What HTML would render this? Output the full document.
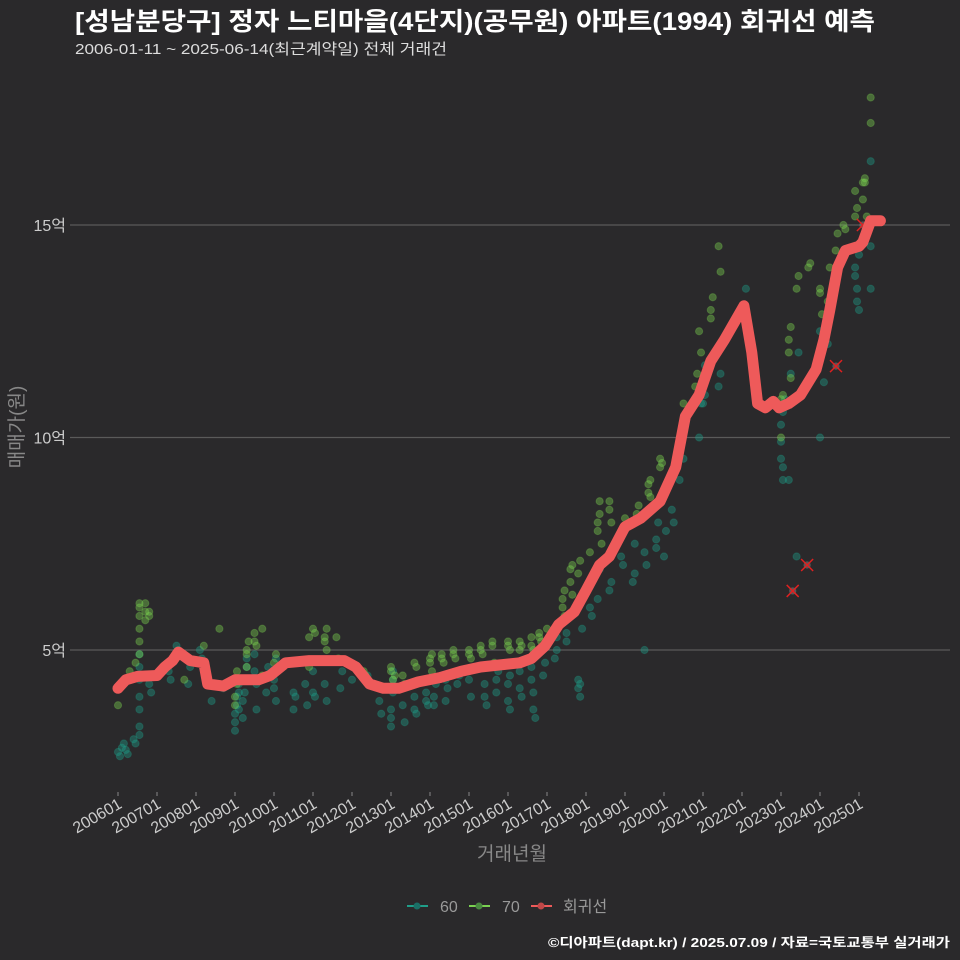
<!DOCTYPE html>
<html><head><meta charset="utf-8"><style>
html,body{margin:0;padding:0;background:#2a292b;}
svg{display:block;font-family:"Liberation Sans","Noto Sans CJK KR",sans-serif;}
</style></head><body>
<svg id="chart" width="960" height="960" viewBox="0 0 960 960">
<rect width="960" height="960" fill="#2a292b"/>
<text x="75" y="30" fill="#fff" font-size="25" font-weight="bold" textLength="800" lengthAdjust="spacingAndGlyphs">[성남분당구] 정자 느티마을(4단지)(공무원) 아파트(1994) 회귀선 예측</text>
<text x="75" y="54" fill="#ddd" font-size="15" textLength="372" lengthAdjust="spacingAndGlyphs">2006-01-11 ~ 2025-06-14(최근계약일) 전체 거래건</text>
<g id="grid"></g><g id="yticks"></g><g id="xticks"></g>
<g id="s60"></g><g id="s70"></g><g id="outliers"></g><g id="reg"></g>
<text transform="translate(23,427) rotate(-90)" text-anchor="middle" fill="#888" font-size="19">매매가(원)</text>
<text x="512" y="860" text-anchor="middle" fill="#888" font-size="19">거래년월</text>
<g>
<g><line x1="407" y1="906" x2="428" y2="906" stroke="#1f9e89" stroke-width="2"/><circle cx="417" cy="906" r="3.5" fill="#1a6f66"/><text x="440" y="912" fill="#999" font-size="16">60</text></g>
<g><line x1="469" y1="906" x2="490" y2="906" stroke="#7ad151" stroke-width="2"/><circle cx="479" cy="906" r="3.5" fill="#4a8a40"/><text x="502" y="912" fill="#999" font-size="16">70</text></g>
<g><line x1="531" y1="906" x2="552" y2="906" stroke="#ee5a5a" stroke-width="2"/><circle cx="541" cy="906" r="3.5" fill="#c04848"/><text x="563" y="912" fill="#999" font-size="16">회귀선</text></g>
</g>
<text x="950" y="947" text-anchor="end" fill="#fff" font-size="13" font-weight="bold" textLength="402" lengthAdjust="spacingAndGlyphs">©디아파트(dapt.kr) / 2025.07.09 / 자료=국토교통부 실거래가</text>
</svg>
<script>
const yTicks=[5,10,15];
const xTickLabels=['200601','200701','200801','200901','201001','201101','201201','201301','201401','201501','201601','201701','201801','201901','202001','202101','202201','202301','202401','202501'];
const regYears=[2006.0,2006.2,2006.5,2007.0,2007.2,2007.4,2007.55,2007.85,2008.2,2008.3,2008.7,2009.0,2009.6,2009.9,2010.3,2010.9,2011.8,2012.1,2012.45,2012.8,2013.2,2013.7,2014.25,2014.8,2015.3,2016.3,2016.6,2016.95,2017.3,2017.7,2018.0,2018.35,2018.6,2019.0,2019.4,2019.9,2020.3,2020.55,2020.9,2021.2,2021.55,2022.05,2022.25,2022.4,2022.6,2022.8,2022.95,2023.2,2023.5,2023.9,2024.1,2024.25,2024.45,2024.65,2025.0,2025.1,2025.3,2025.55];
const regValues=[4.1,4.3,4.38,4.4,4.6,4.75,4.95,4.75,4.7,4.2,4.15,4.3,4.3,4.4,4.7,4.75,4.75,4.6,4.2,4.1,4.1,4.25,4.35,4.5,4.6,4.7,4.8,5.1,5.6,5.9,6.4,7.0,7.2,7.9,8.1,8.5,9.3,10.5,11.0,11.8,12.3,13.1,12.0,10.8,10.7,10.85,10.7,10.8,11.0,11.6,12.3,13.0,14.0,14.4,14.5,14.6,15.1,15.1];
const s60Years=[2006.0,2006.05,2006.1,2006.15,2006.2,2006.25,2006.4,2006.45,2006.55,2006.55,2006.55,2006.55,2006.55,2006.55,2006.55,2006.8,2006.85,2007.3,2007.35,2007.5,2007.55,2007.6,2007.8,2007.85,2008.1,2008.15,2008.4,2008.7,2009.0,2009.0,2009.0,2009.05,2009.05,2009.1,2009.1,2009.1,2009.2,2009.2,2009.25,2009.25,2009.3,2009.3,2009.5,2009.5,2009.55,2009.55,2009.8,2009.85,2010.0,2010.0,2010.05,2010.05,2010.5,2010.5,2010.55,2010.8,2010.85,2011.0,2011.0,2011.05,2011.3,2011.35,2011.7,2011.75,2012.0,2012.4,2012.7,2012.75,2013.0,2013.0,2013.0,2013.05,2013.05,2013.05,2013.3,2013.35,2013.6,2013.6,2013.65,2013.9,2013.95,2013.9,2014.1,2014.1,2014.15,2014.4,2014.45,2014.4,2014.7,2014.75,2015.0,2015.0,2015.05,2015.4,2015.45,2015.4,2015.7,2015.7,2015.75,2016.0,2016.0,2016.05,2016.05,2016.3,2016.35,2016.3,2016.6,2016.6,2016.65,2016.65,2016.7,2016.9,2016.95,2017.2,2017.25,2017.25,2017.5,2017.5,2017.55,2017.8,2017.8,2017.85,2017.85,2017.9,2018.1,2018.1,2018.15,2018.3,2018.35,2018.35,2018.6,2018.65,2018.9,2018.95,2019.2,2019.25,2019.25,2019.5,2019.5,2019.55,2019.8,2019.8,2019.85,2020.0,2020.05,2020.2,2020.25,2020.4,2020.5,2020.55,2020.9,2020.95,2021.0,2021.05,2021.05,2021.4,2021.45,2022.1,2023.0,2023.0,2023.05,2023.05,2023.0,2023.05,2023.1,2023.2,2023.25,2023.4,2023.45,2024.0,2024.0,2024.05,2024.1,2024.2,2024.9,2024.9,2024.95,2024.95,2025.0,2025.0,2025.05,2025.3,2025.3,2025.3];
const s60Values=[2.6,2.5,2.7,2.8,2.65,2.55,2.9,2.8,3.0,3.2,3.6,3.9,4.3,4.6,4.9,4.2,4.0,4.5,4.3,5.1,5.0,4.9,4.2,4.6,5.0,4.8,3.8,4.1,3.5,3.3,3.1,3.7,3.9,4.2,4.0,3.6,3.4,3.8,4.0,4.3,4.6,4.8,4.5,4.9,4.2,3.6,4.0,4.6,4.3,4.1,3.8,4.8,4.0,3.6,3.9,4.2,3.7,4.5,4.0,3.9,4.2,3.8,4.1,4.5,4.3,4.4,3.8,3.5,3.2,3.4,3.6,4.0,4.3,4.5,3.7,3.3,3.6,3.9,3.5,3.8,3.7,4.0,3.7,3.9,4.2,3.8,4.1,4.3,4.2,4.4,4.3,4.5,3.9,3.9,3.7,4.2,4.3,4.0,4.5,4.2,3.8,3.6,4.4,4.1,3.9,4.5,4.6,4.3,4.0,3.6,3.4,4.4,4.7,4.8,5.0,5.3,5.4,5.2,5.8,4.1,4.3,4.2,3.9,5.5,6.5,6.0,5.8,6.2,6.9,7.0,6.4,6.6,7.2,7.0,6.6,6.8,7.5,5.0,7.3,7.0,7.6,7.4,8.0,7.2,7.8,8.3,8.0,9.0,9.5,10.5,10.0,10.8,10.8,11.0,11.7,11.2,11.5,13.5,9.9,9.5,9.3,9.0,10.3,10.6,10.9,9.0,11.5,7.2,12.0,10.0,12.5,12.0,11.3,12.2,14.0,13.8,13.5,13.2,13.0,14.3,14.5,16.5,14.5,13.5];
const s70Years=[2006.0,2006.3,2006.45,2006.45,2006.55,2006.55,2006.55,2006.55,2006.55,2006.55,2006.7,2006.7,2006.7,2006.8,2006.8,2007.0,2007.7,2008.2,2008.6,2009.0,2009.0,2009.05,2009.05,2009.3,2009.3,2009.3,2009.35,2009.35,2009.5,2009.5,2009.55,2009.7,2009.7,2010.0,2010.05,2010.9,2010.9,2011.0,2011.05,2011.3,2011.3,2011.35,2011.35,2011.6,2011.65,2012.3,2012.35,2013.0,2013.0,2013.05,2013.05,2013.1,2013.3,2013.35,2013.6,2013.65,2014.0,2014.0,2014.05,2014.05,2014.3,2014.3,2014.35,2014.6,2014.6,2014.65,2015.0,2015.0,2015.05,2015.3,2015.3,2015.35,2015.6,2015.6,2015.65,2016.0,2016.0,2016.05,2016.3,2016.3,2016.35,2016.6,2016.6,2016.65,2016.8,2016.8,2016.85,2017.0,2017.05,2017.4,2017.4,2017.45,2017.45,2017.6,2017.6,2017.65,2017.65,2017.8,2017.85,2018.1,2018.3,2018.3,2018.35,2018.35,2018.4,2018.6,2018.6,2018.65,2019.0,2019.3,2019.35,2019.6,2019.6,2019.65,2019.65,2019.9,2019.9,2019.95,2020.5,2020.8,2020.85,2020.9,2020.95,2021.2,2021.2,2021.25,2021.4,2021.45,2023.0,2023.0,2023.05,2023.2,2023.2,2023.25,2023.25,2023.4,2023.45,2023.7,2023.75,2024.0,2024.0,2024.05,2024.2,2024.25,2024.4,2024.45,2024.6,2024.65,2024.9,2024.9,2024.95,2025.1,2025.1,2025.15,2025.15,2025.2,2025.3,2025.3];
const s70Values=[3.7,4.5,4.7,4.4,6.1,6.0,5.8,5.5,5.2,4.9,6.1,5.9,5.7,5.9,5.8,4.4,4.3,5.1,5.5,3.7,3.9,4.2,4.5,4.6,4.9,5.0,5.2,4.3,5.2,5.4,5.1,5.5,4.4,4.7,4.9,4.6,5.3,5.5,5.4,5.3,5.2,5.5,5.0,5.3,4.8,4.5,4.4,4.6,4.5,4.1,4.3,4.4,4.4,4.2,4.7,4.6,4.7,4.8,4.9,4.5,4.9,4.8,4.7,4.9,5.0,4.8,5.0,4.9,4.8,5.0,5.1,4.9,5.1,5.2,4.7,5.1,5.2,5.0,5.2,5.0,5.1,5.3,5.1,5.0,5.3,5.4,5.2,5.5,5.3,6.0,6.2,5.8,6.4,6.6,6.9,7.0,6.3,6.8,7.1,7.3,8.0,7.8,8.2,8.5,7.5,8.5,8.3,8.0,8.1,8.2,8.4,8.7,8.9,9.0,8.6,9.5,9.3,9.4,10.8,11.2,11.5,12.5,12.0,12.8,13.0,13.3,14.5,13.9,10.0,10.9,11.0,12.0,12.3,11.4,12.6,13.5,13.8,14.0,14.1,13.4,13.5,12.9,13.2,14.0,14.4,14.8,15.0,14.9,15.2,15.8,15.4,15.6,16.0,16.1,16.0,15.2,17.4,18.0];
const outYears=[2023.3,2023.67,2024.41,2025.1];
const outValues=[6.39,7.0,11.68,15.0];

const NS='http://www.w3.org/2000/svg';
const xS=y=>118+(y-2006)*39;
const yS=v=>862.5-v*42.5;
function mk(tag,attrs,parent){const e=document.createElementNS(NS,tag);for(const k in attrs)e.setAttribute(k,attrs[k]);parent.appendChild(e);return e;}
const grid=document.getElementById('grid'),yt=document.getElementById('yticks'),xt=document.getElementById('xticks');
yTicks.forEach(v=>{
  const l=mk('line',{x1:70,x2:950,y1:yS(v),y2:yS(v),stroke:'#5a5a5a','stroke-width':1.2},grid);
  
  
  const t=mk('text',{x:66,y:yS(v)+6,'text-anchor':'end',fill:'#ccc','font-size':16},yt);
  t.textContent=v+'억';
  
  
});
xTickLabels.forEach((lab,i)=>{
  const x=xS(2006+i);
  const tk=mk('line',{x1:x,x2:x,y1:792,y2:796,stroke:'#888','stroke-width':1},xt);
  
  
  const t=mk('text',{transform:`translate(${x+5},${807}) rotate(-30)`,'text-anchor':'end',fill:'#ccc','font-size':16},xt);
  t.textContent=lab;
  
  
});
const g60=document.getElementById('s60');
s60Years.forEach((yr,i)=>{
  const c=mk('circle',{cx:xS(yr),cy:yS(s60Values[i]),r:3.6,fill:'#1f9e89','fill-opacity':0.4,stroke:'#1f9e89','stroke-opacity':0.3},g60);
  
  
});
const g70=document.getElementById('s70');
s70Years.forEach((yr,i)=>{
  const c=mk('circle',{cx:xS(yr),cy:yS(s70Values[i]),r:3.6,fill:'#7ad151','fill-opacity':0.4,stroke:'#7ad151','stroke-opacity':0.3},g70);
  
  
});
const go=document.getElementById('outliers');
outYears.forEach((yr,i)=>{
  const x=xS(yr),y=yS(outValues[i]);
  const c=mk('circle',{cx:x,cy:y,r:3.6,fill:'#777','fill-opacity':0.6},go);
  
  
  const p=mk('path',{d:`M${x-6},${y-6}L${x+6},${y+6}M${x-6},${y+6}L${x+6},${y-6}`,stroke:'#e02020','stroke-width':1.5},go);
  
  
});
const gr=document.getElementById('reg');
const d=regYears.map((yr,i)=>(i?'L':'M')+xS(yr).toFixed(1)+','+yS(regValues[i]).toFixed(1)).join('');
const rl=mk('path',{d:d,fill:'none',stroke:'#ee5a5a','stroke-width':11,'stroke-linejoin':'round','stroke-linecap':'round'},gr);


</script>
</body></html>
